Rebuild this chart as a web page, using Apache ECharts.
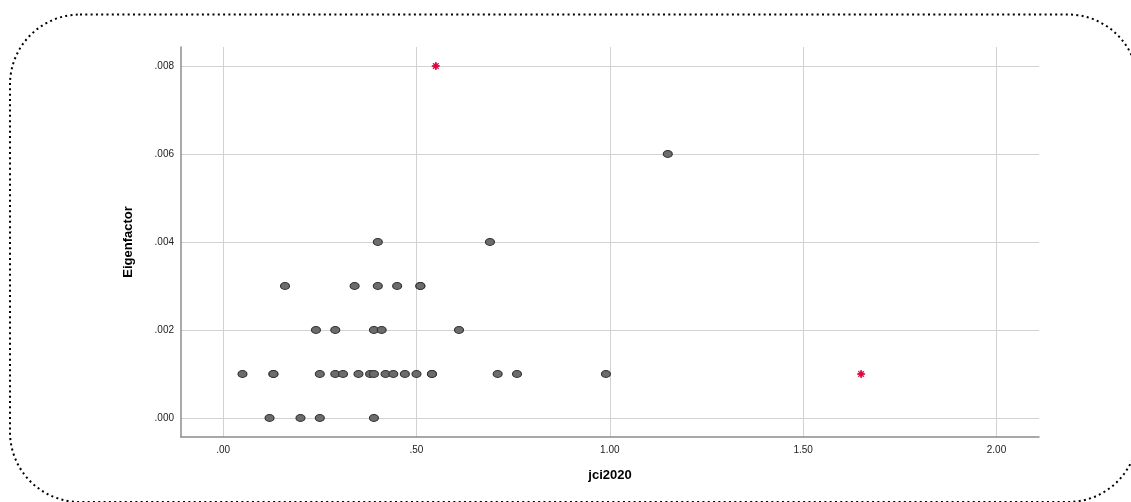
<!DOCTYPE html>
<html>
<head>
<meta charset="utf-8">
<script src="https://cdn.jsdelivr.net/npm/echarts@6/dist/echarts.min.js"></script>
<style>
html,body{margin:0;padding:0;background:#fff;}
#chart{width:1131px;height:502px;}
</style>
</head>
<body>
<div id="chart"></div>
<script>
// Data
var normalX = [0.40, 0.69, 1.15,
  0.16, 0.34, 0.40, 0.45, 0.51, 0.51,
  0.24, 0.29, 0.39, 0.41, 0.61,
  0.05, 0.13, 0.13, 0.25, 0.29, 0.31, 0.35, 0.38, 0.39, 0.42, 0.44, 0.47, 0.50, 0.54, 0.54, 0.71, 0.76, 0.99,
  0.12, 0.20, 0.25, 0.39];
var normalY = [0.004, 0.004, 0.006,
  0.003, 0.003, 0.003, 0.003, 0.003, 0.003,
  0.002, 0.002, 0.002, 0.002, 0.002,
  0.001, 0.001, 0.001, 0.001, 0.001, 0.001, 0.001, 0.001, 0.001, 0.001, 0.001, 0.001, 0.001, 0.001, 0.001, 0.001, 0.001, 0.001,
  0.000, 0.000, 0.000, 0.000];
var outlierX = [0.55, 1.65];
var outlierY = [0.008, 0.001];
var xTicks = [0, 0.5, 1.0, 1.5, 2.0];
var yTicks = [0, 0.002, 0.004, 0.006, 0.008];

function pairs(xs, ys) { return xs.map(function (v, i) { return [v, ys[i]]; }); }
function stripZero(s) { return s.replace(/^0\./, '.'); }

var FONT = 'Liberation Sans, Arial, sans-serif';
var chart = echarts.init(document.getElementById('chart'));
chart.setOption({
  animation: false,
  backgroundColor: '#fff',
  graphic: [{
    type: 'rect',
    shape: { x: 10, y: 14.5, width: 1128, height: 487.5, r: 70 },
    style: { fill: 'none', stroke: '#000', lineWidth: 2, lineDash: [2, 3.3] },
    silent: true, z: -1
  }],
  grid: { left: 181, right: 92, top: 47, bottom: 65 },
  xAxis: {
    type: 'value', min: -0.109, max: 2.11,
    name: 'jci2020', nameLocation: 'middle', nameGap: 32,
    nameTextStyle: { fontFamily: FONT, fontSize: 13, fontWeight: 'bold', color: '#000' },
    axisLine: { show: true, onZero: false, lineStyle: { color: '#8c8c8c', width: 1.5 } },
    axisTick: { show: false, customValues: xTicks },
    axisLabel: { customValues: xTicks, margin: 8, fontFamily: FONT, fontSize: 10, color: '#222',
      formatter: function (v) { return stripZero(v.toFixed(2)); } },
    splitLine: { show: true, lineStyle: { color: '#d2d2d2', width: 1 } }
  },
  yAxis: {
    type: 'value', min: -0.000432, max: 0.008432,
    name: 'Eigenfactor', nameLocation: 'middle', nameGap: 46, nameRotate: 90,
    nameTextStyle: { fontFamily: FONT, fontSize: 13, fontWeight: 'bold', color: '#000' },
    axisLine: { show: true, onZero: false, lineStyle: { color: '#8c8c8c', width: 1.5 } },
    axisTick: { show: false, customValues: yTicks },
    axisLabel: { customValues: yTicks, margin: 7, fontFamily: FONT, fontSize: 10, color: '#222',
      formatter: function (v) { return stripZero(v.toFixed(3)); } },
    splitLine: { show: true, lineStyle: { color: '#d2d2d2', width: 1 } }
  },
  series: [{
    type: 'scatter',
    data: pairs(normalX, normalY),
    symbol: 'circle', symbolSize: [9, 7],
    itemStyle: { color: '#6c6c6c', borderColor: '#333', borderWidth: 1, opacity: 1 }
  }, {
    type: 'scatter',
    data: pairs(outlierX, outlierY),
    symbol: 'path://M0,-5 L1.3,-2 L3.5,-3.5 L2,-1.3 L5,0 L2,1.3 L3.5,3.5 L1.3,2 L0,5 L-1.3,2 L-3.5,3.5 L-2,1.3 L-5,0 L-2,-1.3 L-3.5,-3.5 L-1.3,-2 Z',
    symbolSize: 8,
    itemStyle: { color: '#e2003a', borderColor: '#e2003a', borderWidth: 0.8, opacity: 1 }
  }]
});
</script>
</body>
</html>
